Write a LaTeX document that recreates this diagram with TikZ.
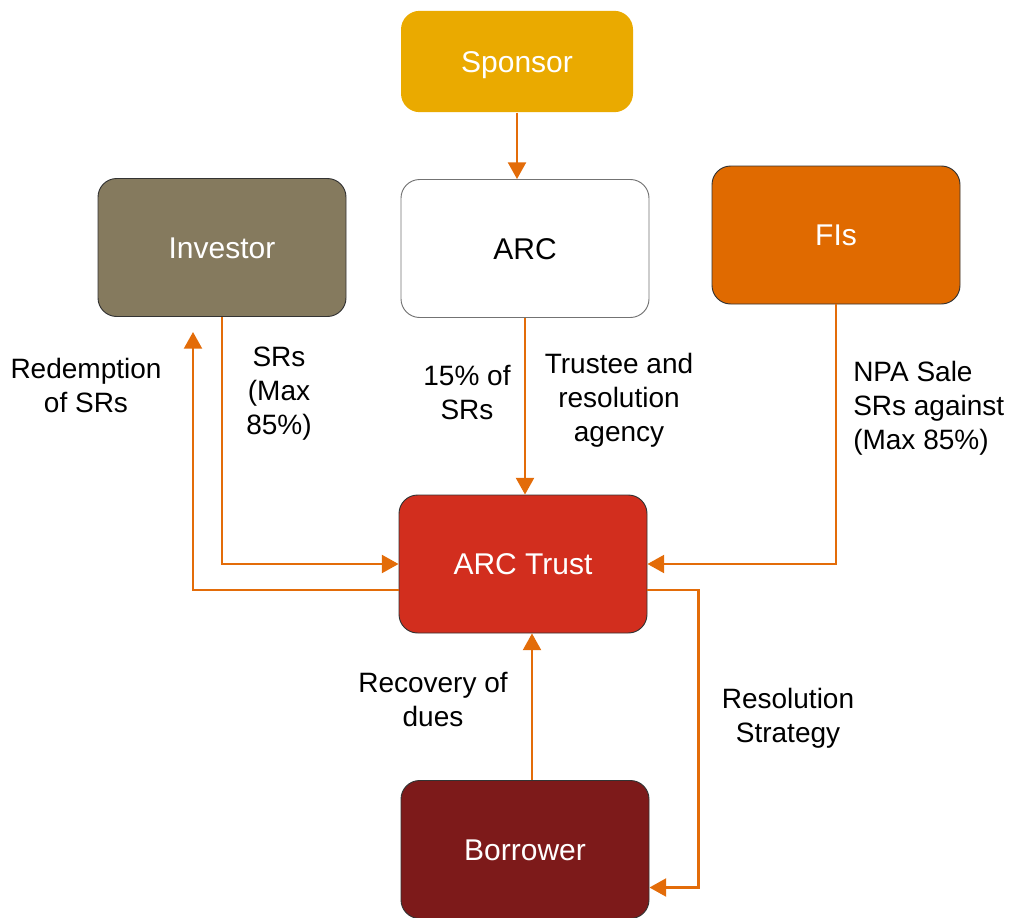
\documentclass[tikz,border=0pt]{standalone}
\usepackage{fontspec}
\setmainfont{Liberation Sans}
\usetikzlibrary{arrows.meta,calc}
\definecolor{sponsorC}{HTML}{EAAA00}
\definecolor{investorC}{HTML}{857A5E}
\definecolor{fisC}{HTML}{E06A00}
\definecolor{trustC}{HTML}{D22E1E}
\definecolor{borrowerC}{HTML}{7D1A1A}
\definecolor{flowC}{HTML}{E36C09}
\tikzset{
  box/.style={rectangle, rounded corners=14pt, minimum width=186pt, minimum height=103.5pt,
    inner sep=0pt, draw=black!80, line width=0.7pt, text=white,
    text height=16pt, text depth=0pt,
    font=\fontsize{22.5}{27}\selectfont},
  lbl/.style={font=\fontsize{21}{25.5}\selectfont, align=center, inner sep=0pt},
  flow/.style={draw=flowC, line width=1.6pt, -{Triangle[length=12.5pt,width=13.5pt]}},
}
\begin{document}
\begin{tikzpicture}[x=0.75pt,y=-0.75pt]
\useasboundingbox (0,0) rectangle (1009,917);

% boxes
\node[box, fill=sponsorC, draw=none, minimum width=174pt, minimum height=76pt] (sponsor) at (517,61.5) {Sponsor};
\node[box, fill=white, draw=black!55, text=black] (arc) at (525,248.5) {ARC};
\node[box, fill=investorC] (inv) at (222,247.5) {Investor};
\node[box, fill=fisC] (fis) at (836,235) {FIs};
\node[box, fill=trustC] (trust) at (523,564) {ARC Trust};
\node[box, fill=borrowerC] (bor) at (525,849.5) {Borrower};

% anchor points of the bent flows
\coordinate (redeem) at (193,332);
\coordinate (recFrom) at ($(bor.north)+(7,0)$);
\coordinate (resTo) at ($(bor.east)+(0,38)$);
\coordinate (resBend) at ($(trust.east)+(51,26)$);

% flows
\draw[flow] (sponsor.south) -- (sponsor.south |- arc.north);
\draw[flow] (arc.south) -- (arc.south |- trust.north);
\draw[flow] (inv.south) |- (trust.west);
\draw[flow] ($(trust.west)+(0,26)$) -| (redeem);
\draw[flow] (fis.south) |- (trust.east);
\draw[flow] (recFrom) -- (recFrom |- trust.south);
\draw[flow] ($(trust.east)+(0,26)$) -- (resBend) |- (resTo);

% flow labels
\node[lbl] (l1) at (86,385) {Redemption\\of SRs};
\node[lbl] (l2) at (279,394) {SRs\\(Max\\85\%)};
\node[lbl] (l3) at (467,393) {15\% of\\SRs};
\node[lbl] (l4) at (619,400) {Trustee and\\resolution\\agency};
\node[lbl, align=left, anchor=west] (l5) at (853,408) {NPA Sale\\SRs against\\(Max 85\%)};
\node[lbl] (l6) at (433,699) {Recovery of\\dues};
\node[lbl] (l7) at (788,718) {Resolution\\Strategy};
\end{tikzpicture}
\end{document}
